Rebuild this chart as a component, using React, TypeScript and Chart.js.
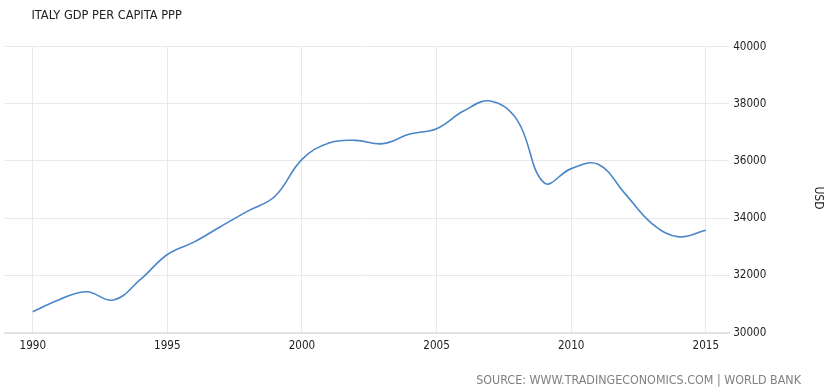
import React, { useEffect, useRef } from "react";
import { Chart, registerables } from "chart.js";

Chart.register(...registerables);

const years: number[] = [
  1990, 1991, 1992, 1993, 1994, 1995, 1996, 1997, 1998, 1999,
  2000, 2001, 2002, 2003, 2004, 2005, 2006, 2007, 2008, 2009,
  2010, 2011, 2012, 2013, 2014, 2015,
];
const gdpPerCapita: number[] = [
  30733, 31163, 31430, 31140, 31860, 32733, 33174, 33721, 34256, 34767,
  36058, 36628, 36721, 36605, 36940, 37128, 37744, 38093, 37419, 35233,
  35733, 35884, 34860, 33814, 33349, 33581,
];
const xTicks: number[] = [1990, 1995, 2000, 2005, 2010, 2015];
const titleText = "ITALY GDP PER CAPITA PPP";
const sourceText = "SOURCE: WWW.TRADINGECONOMICS.COM | WORLD BANK";
const unitText = "USD";

const FONT = '"DejaVu Sans Condensed", "Liberation Sans", Arial, sans-serif';

export default function App() {
  const ref = useRef<HTMLCanvasElement | null>(null);
  useEffect(() => {
    if (!ref.current) return;
    const textPlugin = {
      id: "texts",
      afterDraw(chart: any) {
        const ctx = chart.ctx;
        ctx.save();
        ctx.fillStyle = "#222222";
        ctx.font = `12.7px ${FONT}`;
        ctx.textAlign = "left";
        ctx.textBaseline = "middle";
        ctx.fillText(titleText, 31.5, 15.5);
        ctx.fillStyle = "#808080";
        ctx.font = `12.4px ${FONT}`;
        ctx.textAlign = "right";
        ctx.fillText(sourceText, 801, 381);
        ctx.translate(818, 198);
        ctx.rotate(Math.PI / 2);
        ctx.fillStyle = "#222222";
        ctx.font = `12px ${FONT}`;
        ctx.textAlign = "center";
        ctx.fillText(unitText, 0, 0);
        ctx.restore();
      },
    };
    const chart = new Chart(ref.current, {
      type: "line",
      data: {
        datasets: [
          {
            data: years.map((y, i) => ({ x: y, y: gdpPerCapita[i] })),
            borderColor: "#4a86c8",
            borderWidth: 1.6,
            pointRadius: 0,
            fill: false,
            tension: 0.4,
          },
        ],
      },
      options: {
        responsive: false,
        animation: false,
        layout: { padding: { left: 4.5, top: 46.5, right: 0, bottom: 0 } },
        plugins: {
          legend: { display: false },
          tooltip: { enabled: false },
          title: { display: false },
        },
        scales: {
          x: {
            type: "linear",
            min: 1988.95,
            max: 2015.87,
            afterBuildTicks: (scale: any) => {
              scale.ticks = xTicks.map((v) => ({ value: v }));
            },
            afterFit: (scale: any) => {
              scale.height = 59.3;
            },
            grid: { color: "#e9e9e9", drawTicks: false },
            border: { display: true, color: "#e2e2e2", width: 2 },
            ticks: {
              color: "#222222",
              font: { family: FONT, size: 11.6 },
              padding: 6,
              maxRotation: 0,
              callback: (v: any) => String(v),
            },
          },
          y: {
            position: "right",
            min: 30000,
            max: 40000,
            afterFit: (scale: any) => {
              scale.width = 102.8;
            },
            grid: { color: "#e9e9e9", drawTicks: false },
            border: { display: false },
            ticks: {
              stepSize: 2000,
              color: "#222222",
              font: { family: FONT, size: 11.6 },
              padding: 4,
              callback: (v: any) => String(v),
            },
          },
        },
      },
      plugins: [textPlugin],
    });
    return () => chart.destroy();
  }, []);
  return (
    <div style={{ position: "fixed", left: 0, top: 0, width: 832, height: 392, background: "#fff" }}>
      <canvas ref={ref} width={832} height={392} style={{ width: 832, height: 392, display: "block" }} />
    </div>
  );
}
